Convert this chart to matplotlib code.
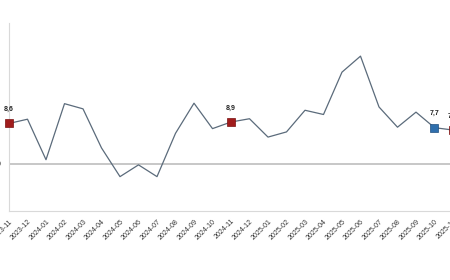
import numpy as np
import matplotlib.pyplot as plt

plt.rcParams["font.family"] = ["Liberation Sans", "DejaVu Sans"]

months = [
    "2023-11", "2023-12", "2024-01", "2024-02", "2024-03", "2024-04",
    "2024-05", "2024-06", "2024-07", "2024-08", "2024-09", "2024-10",
    "2024-11", "2024-12", "2025-01", "2025-02", "2025-03", "2025-04",
    "2025-05", "2025-06", "2025-07", "2025-08", "2025-09", "2025-10",
    "2025-11",
]
values = [
    8.6, 9.5, 0.9, 12.8, 11.7, 3.4,
    -2.7, -0.2, -2.7, 6.5, 12.9, 7.5,
    8.9, 9.6, 5.7, 6.8, 11.4, 10.5,
    19.5, 22.9, 12.1, 7.8, 11.0, 7.7,
    7.2,
]
red_idx = [0, 12, 24]
blue_idx = [23]
y_ticks = [-10, 0, 10, 20, 30]

line_col = "#5b6b7b"
red = "#a01c1c"
blue = "#2f6fad"

fig = plt.figure(figsize=(4.5, 2.8), dpi=100)
# axes runs past the right edge: the reference is a crop of a wider chart
ax = fig.add_axes([9 / 450, 1 - 211 / 280, 462.5 / 450, 188.3 / 280])

x = np.arange(len(months))
ax.axhline(0, color="#bdbdbd", lw=1.2, zorder=1)
ax.plot(x, values, color=line_col, lw=0.9, zorder=2)

for i in red_idx:
    ax.plot(x[i], values[i], "s", ms=6, color=red, mec="#7a1010", mew=0.5, zorder=3, clip_on=False)
for i in blue_idx:
    ax.plot(x[i], values[i], "s", ms=6, color=blue, mec="#1f4f80", mew=0.5, zorder=3, clip_on=False)
for i in red_idx + blue_idx:
    ax.annotate(f"{values[i]:.1f}".replace(".", ","), (x[i], values[i]),
                xytext=(0, 7.5), textcoords="offset points", ha="center",
                va="bottom", fontsize=5, color="#222222", fontweight="bold")

ax.set_xlim(0, 25)
ax.set_ylim(-10, 30)
ax.set_yticks(y_ticks)
ax.set_xticks(x)
ax.set_xticklabels(months, rotation=45, ha="right", rotation_mode="anchor",
                   fontsize=5, color="#333333")
ax.tick_params(axis="x", length=0, pad=5)
ax.tick_params(axis="y", length=0, pad=6, labelsize=5, labelcolor="#333333")

for side in ["top", "right"]:
    ax.spines[side].set_visible(False)
ax.spines["left"].set_color("#d9d9d9")
ax.spines["bottom"].set_color("#d9d9d9")
ax.spines["left"].set_linewidth(0.8)
ax.spines["bottom"].set_linewidth(0.8)

fig.savefig("out.png", dpi=100, facecolor="white")
